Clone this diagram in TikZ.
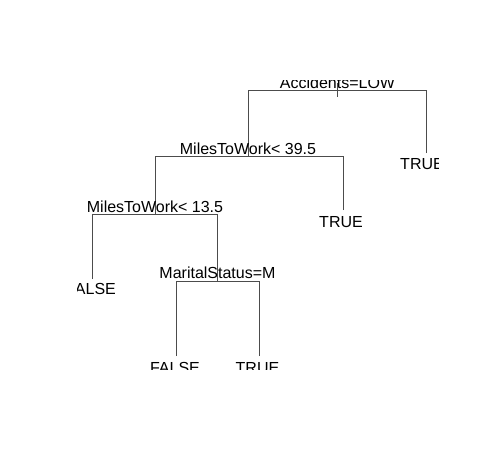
\documentclass[tikz,border=0pt]{standalone}
\usepackage{fontspec}
\setmainfont{Liberation Sans}
\begin{document}
\begin{tikzpicture}[x=1pt,y=-1pt,
  branch/.style={draw=black!70,line width=0.9pt},
  splitlab/.style={inner sep=0pt,anchor=base,font=\fontsize{16}{19}\selectfont},
  leaflab/.style={inner sep=0pt,anchor=north,font=\fontsize{16}{19}\selectfont}]
\useasboundingbox[fill=white] (0,0) rectangle (480,467);
\begin{scope}
\clip (77,80) rectangle (438,369);
% node positions
\coordinate (n1) at (337.5,90);
\coordinate (n2) at (248,156);
\coordinate (n3) at (426,153);
\coordinate (n4) at (155,214);
\coordinate (n5) at (343,210);
\coordinate (n8) at (92,279);
\coordinate (n9) at (217.5,281);
\coordinate (n18) at (176,356);
\coordinate (n19) at (259.5,356);
\coordinate (t1) at (337.5,83);
\coordinate (t2) at (337.5,97);
% branches
\draw[branch] (t1) -- (t2);
\draw[branch] (n2) |- (n1);
\draw[branch] (n3) |- (n1);
\draw[branch] (n4) |- (n2);
\draw[branch] (n5) |- (n2);
\draw[branch] (n8) |- (n4);
\draw[branch] (n9) |- (n4);
\draw[branch] (n18) |- (n9);
\draw[branch] (n19) |- (n9);
% split labels
\node[splitlab] (l1) at ([yshift=2]n1) {Accidents=LOW};
\node[splitlab] (l2) at ([yshift=1.5]n2) {MilesToWork< 39.5};
\node[splitlab] (l4) at ([yshift=2]n4) {MilesToWork< 13.5};
\node[splitlab] (l9) at ([yshift=2.5]n9) {MaritalStatus=M};
% leaf labels
\node[leaflab] (f3) at ([xshift=-4,yshift=-5]n3) {TRUE};
\node[leaflab] (f5) at ([xshift=-2,yshift=-6]n5) {TRUE};
\node[leaflab] (f8) at ([xshift=-1,yshift=-4]n8) {FALSE};
\node[leaflab] (f18) at ([xshift=-1,yshift=-6]n18) {FALSE};
\node[leaflab] (f19) at ([xshift=-2,yshift=-6]n19) {TRUE};
\end{scope}
\end{tikzpicture}
\end{document}
